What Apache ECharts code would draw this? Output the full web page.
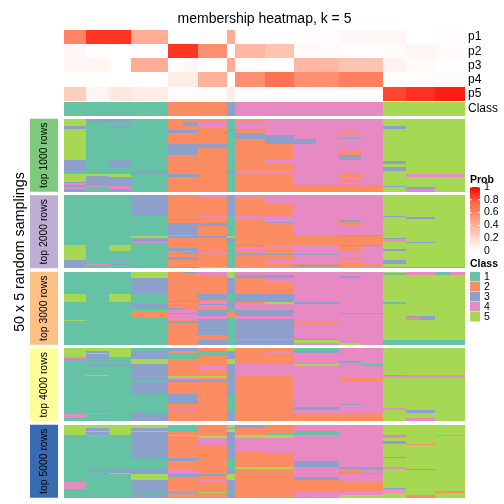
<!DOCTYPE html>
<html><head><meta charset="utf-8">
<script src="https://cdn.jsdelivr.net/npm/echarts@6/dist/echarts.min.js"></script>
<style>html,body{margin:0;padding:0;background:#fff}#c{width:504px;height:504px}</style>
</head><body><div id="c"></div>
<script>
// sample column groups (number of samples in each group, left to right)
const groupSizes = [3,3,3,5,2,2,4,1,4,4,3,3,3,3,3,2,2,2,2];
const probRows = ['p1','p2','p3','p4','p5'];
const p1 = [0.62,0.87,0.87,0.42,0,0,0.01,0.42,0,0,0.01,0.01,0.04,0.04,0.04,0,0,0.01,0.01];
const p2 = [0.04,0.01,0,0,0.87,0.87,0.57,0,0.37,0.3,0.03,0.02,0.01,0,0.03,0.05,0.05,0.02,0.02];
const p3 = [0.05,0.05,0,0.42,0.01,0.04,0.01,0.42,0.02,0,0.37,0.36,0.3,0.3,0.06,0.03,0.03,0,0];
const p4 = [0.01,0,0,0,0.1,0.1,0.4,0,0.57,0.7,0.57,0.57,0.65,0.65,0.01,0.01,0.01,0.02,0.02];
const p5 = [0.25,0.05,0.12,0.1,0.01,0.01,0.01,0.1,0.01,0.01,0.01,0.01,0.01,0.01,0.83,0.88,0.88,0.93,0.93];
const consensusClass = [1,1,1,1,2,2,2,3,4,4,4,4,4,4,5,5,5,5,5];
const classColors = ['#66C2A5','#FC8D62','#8DA0CB','#E78AC3','#A6D854'];
const blockLabels = ['top 1000 rows','top 2000 rows','top 3000 rows','top 4000 rows','top 5000 rows'];
const blockColors = ['#7FC97F','#BEAED4','#FDC086','#FFFF99','#386CB0'];

// 50 sampling rows per group, run-length: "class*count"
const top1000 = [
 '5*5 3*2 5*21 3*8 1*2 5*5 3*1 4*1 3*2 4*1 3*2',
 '3*2 1*36 5*1 3*7 4*1 1*3',
 '3*2 1*3 3*1 1*22 3*2 1*1 3*3 1*4 5*2 3*6 4*2 3*2',
 '1*7 3*1 1*28 3*2 1*12',
 '2*8 3*2 2*7 3*8 2*13 3*2 2*10',
 '2*2 3*3 2*3 3*2 2*7 3*8 2*13 3*2 2*10',
 '4*1 2*1 4*4 2*11 3*3 2*30',
 '1*7 3*1 1*28 3*2 1*12',
 '4*1 2*1 4*5 2*3 3*4 2*22 4*1 2*13',
 '4*11 3*6 2*11 4*3 2*5 4*1 2*13',
 '4*14 3*3 4*28 2*5',
 '4*45 2*5',
 '4*9 2*1 4*3 3*1 4*8 2*3 3*3 4*10 2*2 4*1 2*2 4*2 2*5',
 '4*45 2*5',
 '5*5 3*2 5*22 3*2 5*2 3*3 5*10 3*1 5*3',
 '5*38 4*2 5*7 3*1 4*2',
 '5*38 4*2 5*7 3*1 4*2',
 '5*38 4*2 5*10',
 '5*38 4*2 5*10'
];
const top2000 = [
 '1*34 5*10 3*5 1*1',
 '1*47 4*1 1*2',
 '1*34 5*4 1*6 3*1 1*2 3*1 1*2',
 '3*14 1*14 5*1 3*3 4*1 1*17',
 '2*16 3*1 2*2 3*8 2*1 3*1 2*7 3*2 2*4 3*2 2*5 3*1',
 '2*16 3*1 2*2 3*8 2*1 3*1 2*7 3*2 2*1 3*1 2*2 3*2 2*5 3*1',
 '4*1 2*13 4*1 2*4 3*2 2*7 3*1 2*10 4*1 2*9 5*1',
 '3*14 1*14 5*1 3*3 1*18',
 '4*2 2*12 4*2 2*18 3*1 2*1 4*3 2*1 3*1 2*9',
 '4*6 2*8 4*4 3*1 2*15 4*2 2*4 3*1 2*3 4*3 2*3',
 '4*28 2*6 4*6 3*1 4*6 2*1 3*1 4*1',
 '4*28 2*6 4*6 3*1 4*6 2*1 3*1 4*1',
 '4*17 3*1 2*2 4*7 3*1 2*6 3*1 2*3 4*5 2*1 4*2 2*3 4*1',
 '4*27 3*1 2*6 3*1 4*12 2*1 4*2',
 '5*14 3*1 5*14 3*1 4*2 5*5 3*1 5*6 3*3 5*2 1*1',
 '5*15 3*1 5*16 3*1 5*16 1*1',
 '5*15 3*1 5*16 3*1 5*16 1*1',
 '5*49 1*1',
 '5*49 1*1'
];
const top3000 = [
 '1*15 5*6 1*12 5*1 1*16',
 '1*50',
 '1*15 5*6 1*29',
 '5*4 3*11 1*7 3*3 1*2 2*4 1*19',
 '2*20 3*1 2*4 3*1 4*2 3*1 4*4 2*1 3*1 2*15',
 '3*1 2*19 3*1 2*5 4*2 3*1 4*4 2*1 3*1 2*15',
 '4*2 2*13 3*4 2*2 4*1 3*1 4*2 2*1 3*4 4*2 3*11 2*4 3*3',
 '5*4 3*11 1*6 3*4 1*2 2*4 1*19',
 '4*2 3*2 2*11 3*6 2*1 4*4 3*4 4*2 3*14 2*1 3*3',
 '4*2 3*2 4*3 2*8 3*6 5*1 4*4 3*4 4*2 3*14 2*1 3*3',
 '4*20 2*1 3*1 4*12 2*1 4*11 3*1 5*2 4*1',
 '4*20 2*1 3*1 4*12 2*1 4*11 3*1 5*2 4*1',
 '4*3 3*1 4*24 3*1 4*20 5*1',
 '4*28 3*1 4*21',
 '5*1 1*1 5*19 1*1 5*25 1*3',
 '4*2 5*28 3*1 2*2 5*14 1*3',
 '4*2 5*28 3*3 5*14 1*3',
 '1*2 5*45 1*3',
 '4*2 5*45 1*3'
];
const top4000 = [
 '5*6 4*1 3*2 1*36 4*3 1*2',
 '5*2 3*1 5*1 3*3 1*4 3*1 1*6 5*1 1*25 4*1 1*5',
 '5*6 1*5 3*1 1*38',
 '1*2 3*5 5*4 3*11 1*1 3*8 1*13 3*6',
 '3*2 2*1 1*4 2*12 5*1 4*2 3*1 2*8 3*7 2*4 4*1 2*7',
 '3*2 2*1 1*4 2*12 5*1 4*2 3*1 2*8 3*7 2*4 4*1 2*7',
 '2*2 1*3 2*7 4*3 2*4 5*1 2*2 3*1 2*27',
 '5*2 3*5 5*4 3*20 1*13 3*6',
 '2*7 4*1 2*3 4*8 2*31',
 '2*2 4*1 2*4 4*1 2*3 4*8 2*31',
 '1*2 3*1 4*8 5*1 4*28 3*2 4*2 2*6',
 '1*2 3*1 4*8 5*1 4*28 3*2 4*2 2*6',
 '4*9 3*1 4*10 2*3 4*15 3*1 4*5 2*6',
 '4*11 1*1 4*8 2*3 4*21 2*6',
 '5*18 1*1 4*1 5*21 4*1 5*8',
 '5*18 4*2 5*22 3*2 5*4 4*2',
 '5*18 4*2 5*22 3*2 5*4 4*2',
 '5*18 4*2 5*30',
 '5*18 4*2 5*30'
];
const top5000 = [
 '5*7 1*32 4*5 1*6',
 '5*2 3*2 5*1 3*2 2*1 1*23 3*1 1*1 3*1 1*16',
 '5*7 1*24 3*2 5*1 1*16',
 '5*2 3*2 5*1 3*18 1*8 3*3 5*4 3*8 1*1 3*3',
 '2*1 1*4 2*2 5*1 2*15 3*2 2*6 4*2 2*1 3*2 2*1 4*1 2*8 3*1 2*3',
 '2*1 1*4 2*2 5*1 2*15 3*2 2*6 4*2 2*1 3*2 2*1 4*1 2*8 3*1 2*3',
 '2*7 4*1 5*1 4*5 2*20 3*1 2*3 4*1 2*7 5*1 2*3',
 '5*2 3*1 5*2 3*18 1*8 3*3 5*4 3*8 1*1 3*3',
 '3*2 2*5 5*2 4*9 2*11 5*1 4*1 2*19',
 '1*1 2*5 1*1 5*2 4*10 2*10 5*1 4*1 2*19',
 '4*4 1*3 4*18 3*4 4*7 3*2 2*8 4*4',
 '4*4 1*3 4*18 3*4 4*7 3*2 2*8 4*4',
 '4*29 3*1 2*3 1*1 4*5 2*7 4*2 5*2',
 '4*29 3*1 1*1 4*2 1*1 4*5 2*7 4*2 5*2',
 '5*7 3*1 4*1 5*2 3*2 5*9 3*1 5*6 4*1 5*13 3*1 4*1 5*1 4*1 5*3',
 '5*13 2*1 5*16 3*1 5*17 2*2',
 '5*13 2*1 5*16 3*1 5*17 2*2',
 '5*7 4*1 5*37 4*1 2*1 5*3',
 '5*7 4*1 5*37 4*1 2*1 5*3'
];

const blocks = [top1000, top2000, top3000, top4000, top5000];
const nRows = 50;
function decode(rle){
  const out = [];
  rle.trim().split(/\s+/).forEach(tok => {
    const [c, n] = tok.split('*').map(Number);
    for (let k = 0; k < n; k++) out.push(c);
  });
  return out;
}
const sampleGroup = [];
groupSizes.forEach((n, g) => { for (let k = 0; k < n; k++) sampleGroup.push(g); });
const samples = sampleGroup.map((g, i) => 's' + (i + 1));
const probArrays = [p1, p2, p3, p4, p5];

const probData = [];
sampleGroup.forEach((g, i) => probArrays.forEach((arr, r) => probData.push([i, r, arr[g]])));
const classData = sampleGroup.map((g, i) => [i, 0, consensusClass[g]]);
const blockData = blocks.map(bl => {
  const dec = bl.map(decode);
  const d = [];
  sampleGroup.forEach((g, i) => { for (let r = 0; r < nRows; r++) d.push([i, r, dec[g][r]]); });
  return d;
});

const FONT = 'Liberation Sans, Arial, sans-serif';
const L = 64, W = 401;
const blockTops = [118.8, 195.3, 271.8, 348.3, 424.8], blockH = 73;
const grids = [{left: L, top: 30, width: W, height: 70.7}, {left: L, top: 102, width: W, height: 13.7}]
  .concat(blockTops.map(t => ({left: L, top: t, width: W, height: blockH})));
const rowIdx = Array.from({length: nRows}, (_, i) => String(i));
const xAxes = grids.map((g, i) => ({type: 'category', gridIndex: i, data: samples, show: false}));
const labelAxis = {axisLine: {show: false}, axisTick: {show: false}, splitLine: {show: false},
   axisLabel: {margin: 3, fontSize: 12, color: '#000', fontFamily: FONT, interval: 0}};
const yAxes = [
  Object.assign({type: 'category', gridIndex: 0, data: probRows, inverse: true, position: 'right'}, labelAxis),
  Object.assign({type: 'category', gridIndex: 1, data: ['Class'], position: 'right'}, labelAxis)
].concat(blockTops.map((t, i) => ({type: 'category', gridIndex: i + 2, data: rowIdx, inverse: true, show: false})));

// cell drawn through the axes' scales; edges snapped to whole pixels so neighbouring cells meet
function snap(v) { return Math.round(Math.round(v * 1000) / 1000); }
function renderCell(params, api) {
  const c = api.coord([api.value(0), api.value(1)]);
  const s = api.size([1, 1]);
  const x0 = snap(c[0] - s[0] / 2), x1 = snap(c[0] + s[0] / 2);
  const y0 = snap(c[1] - s[1] / 2), y1 = snap(c[1] + s[1] / 2);
  return {type: 'rect', shape: {x: x0, y: y0, width: x1 - x0, height: y1 - y0},
          style: {fill: api.visual('color')}};
}
function cellSeries(i, data) {
  return {type: 'custom', xAxisIndex: i, yAxisIndex: i, data: data, renderItem: renderCell,
          encode: {x: 0, y: 1}, silent: true, progressive: 0, clip: false};
}
const series = [cellSeries(0, probData), cellSeries(1, classData)]
  .concat(blockData.map((d, i) => cellSeries(i + 2, d)));

const probStops = ['#FFFFFF', '#FFCFBE', '#FF9E81', '#FF6846', '#FF0000'];
const graphics = [];
graphics.push({type: 'text', x: 264.5, y: 19, style: {text: 'membership heatmap, k = 5', fill: '#000', font: '14px ' + FONT, textAlign: 'center', textVerticalAlign: 'middle'}});
graphics.push({type: 'text', x: 20, y: 252, rotation: Math.PI / 2, style: {text: '50 x 5 random samplings', fill: '#000', font: '14.3px ' + FONT, textAlign: 'center', textVerticalAlign: 'middle'}});
blockTops.forEach((t, i) => {
  graphics.push({type: 'rect', shape: {x: 30, y: t, width: 28, height: blockH}, style: {fill: blockColors[i]}});
  graphics.push({type: 'text', x: 44.5, y: t + blockH / 2, rotation: Math.PI / 2,
    style: {text: blockLabels[i], fill: '#000', font: '10.4px ' + FONT, textAlign: 'center', textVerticalAlign: 'middle'}});
});
// Prob legend
graphics.push({type: 'text', x: 470, y: 180, style: {text: 'Prob', fill: '#000', font: 'bold 10.5px ' + FONT, textVerticalAlign: 'middle'}});
graphics.push({type: 'rect', shape: {x: 470, y: 187, width: 10, height: 64},
  style: {fill: new echarts.graphic.LinearGradient(0, 0, 0, 1, probStops.slice().reverse().map((c, i) => ({offset: i / 4, color: c})))}});
[0, 0.2, 0.4, 0.6, 0.8, 1].forEach(v => {
  const y = 251 - v * 64;
  graphics.push({type: 'text', x: 484, y: y, style: {text: String(v), fill: '#000', font: '10.5px ' + FONT, textVerticalAlign: 'middle'}});
  graphics.push({type: 'line', shape: {x1: 470, y1: y, x2: 472, y2: y}, style: {stroke: '#fff', lineWidth: 1}});
  graphics.push({type: 'line', shape: {x1: 478, y1: y, x2: 480, y2: y}, style: {stroke: '#fff', lineWidth: 1}});
});
// Class legend
graphics.push({type: 'text', x: 470, y: 264, style: {text: 'Class', fill: '#000', font: 'bold 10.5px ' + FONT, textVerticalAlign: 'middle'}});
classColors.forEach((c, i) => {
  graphics.push({type: 'rect', shape: {x: 470, y: 272 + 10 * i, width: 10, height: 9.5}, style: {fill: c}});
  graphics.push({type: 'text', x: 484, y: 277 + 10 * i, style: {text: String(i + 1), fill: '#000', font: '10.5px ' + FONT, textVerticalAlign: 'middle'}});
});

const chart = echarts.init(document.getElementById('c'), null, {renderer: 'canvas', width: 504, height: 504});
chart.setOption({
  animation: false,
  backgroundColor: '#fff',
  grid: grids,
  xAxis: xAxes,
  yAxis: yAxes,
  visualMap: [
    {type: 'continuous', seriesIndex: 0, dimension: 2, min: 0, max: 1, show: false, inRange: {color: probStops}},
    {type: 'piecewise', seriesIndex: [1, 2, 3, 4, 5, 6], dimension: 2, show: false,
     pieces: classColors.map((c, i) => ({value: i + 1, color: c}))}
  ],
  series: series,
  graphic: graphics
});
</script></body></html>
